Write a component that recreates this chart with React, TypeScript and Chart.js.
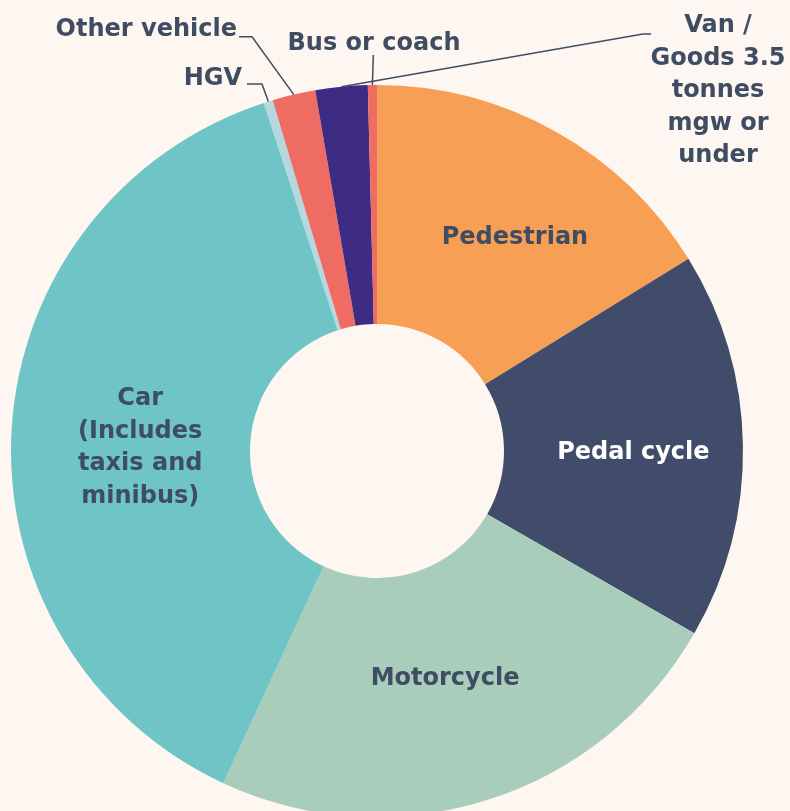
import { useEffect, useRef } from "react";
import { Chart, registerables } from "chart.js";

Chart.register(...registerables);

const categories = [
  "Pedestrian",
  "Pedal cycle",
  "Motorcycle",
  "Car (Includes taxis and minibus)",
  "HGV",
  "Other vehicle",
  "Van / Goods 3.5 tonnes mgw or under",
  "Bus or coach",
];
const shares = [16.2, 17.1, 23.6, 38.1, 0.4, 1.9, 2.3, 0.4];
const labelLines = [
  ["Pedestrian"],
  ["Pedal cycle"],
  ["Motorcycle"],
  ["Car", "(Includes", "taxis and", "minibus)"],
  ["HGV"],
  ["Other vehicle"],
  ["Van /", "Goods 3.5", "tonnes", "mgw or", "under"],
  ["Bus or coach"],
];
const sliceColors = [
  "#F69F55",
  "#414C6B",
  "#A8CDBA",
  "#6FC5C6",
  "#B5D7E0",
  "#EF6C62",
  "#3E2B84",
  "#EF6C62",
];

const BG = "#FEF6F0";
const TEXT = "#3F4D63";
const FONT_SIZE = 24;
const FONT = `bold ${FONT_SIZE}px "DejaVu Sans", sans-serif`;
const CAP = 0.729 * FONT_SIZE;
const LINE_H = 32.5;

// inside label placement: angle delta (deg) and radius factor relative to mid-ring
const insideLayout: Record<number, { dA: number; rf: number; color: string }> = {
  0: { dA: 3.4, rf: 1.04, color: TEXT },
  1: { dA: 0.8, rf: 1.04, color: "#FFFFFF" },
  2: { dA: 0.8, rf: 0.953, color: TEXT },
  3: { dA: -2.0, rf: 0.961, color: TEXT },
};
// outside labels: text anchor + leader elbow points
const outsideLayout: Record<
  number,
  { x: number; cy: number; align: CanvasTextAlign; pts: [number, number][] }
> = {
  4: { x: 242, cy: 76.5, align: "right", pts: [[247, 84], [262, 84]] },
  5: { x: 237, cy: 27, align: "right", pts: [[239, 36.7], [252, 36.7]] },
  6: { x: 718, cy: 23.5, align: "center", pts: [[651, 34], [643, 34]] },
  7: { x: 374, cy: 41, align: "center", pts: [[373.3, 55]] },
};

const labelPlugin = {
  id: "sliceLabels",
  afterDatasetsDraw(chart: any) {
    const ctx = chart.ctx as CanvasRenderingContext2D;
    const meta = chart.getDatasetMeta(0);
    ctx.save();
    ctx.font = FONT;
    ctx.textBaseline = "alphabetic";
    meta.data.forEach((arc: any, i: number) => {
      const p = arc.getProps(
        ["x", "y", "startAngle", "endAngle", "innerRadius", "outerRadius"],
        true
      );
      const mid = (p.startAngle + p.endAngle) / 2;
      const lines = labelLines[i];
      if (insideLayout[i]) {
        const L = insideLayout[i];
        const a = mid + (L.dA * Math.PI) / 180;
        const r = ((p.innerRadius + p.outerRadius) / 2) * L.rf;
        const cx = p.x + r * Math.cos(a);
        const cy = p.y + r * Math.sin(a);
        ctx.fillStyle = L.color;
        ctx.textAlign = "center";
        const top = cy - ((lines.length - 1) * LINE_H) / 2;
        lines.forEach((t, k) => {
          ctx.fillText(t, cx, top + k * LINE_H + CAP / 2);
        });
      } else if (outsideLayout[i]) {
        const L = outsideLayout[i];
        const ax = p.x + p.outerRadius * Math.cos(mid);
        const ay = p.y + p.outerRadius * Math.sin(mid);
        ctx.strokeStyle = TEXT;
        ctx.lineWidth = 1.5;
        ctx.beginPath();
        ctx.moveTo(ax, ay);
        for (let k = L.pts.length - 1; k >= 0; k--) ctx.lineTo(L.pts[k][0], L.pts[k][1]);
        ctx.stroke();
        ctx.fillStyle = TEXT;
        ctx.textAlign = L.align;
        lines.forEach((t, k) => {
          ctx.fillText(t, L.x, L.cy + k * LINE_H + CAP / 2);
        });
      }
    });
    ctx.restore();
  },
};

export default function App() {
  const ref = useRef<HTMLCanvasElement | null>(null);
  useEffect(() => {
    document.body.style.margin = "0";
    document.body.style.background = BG;
    if (!ref.current) return;
    const chart = new Chart(ref.current, {
      type: "doughnut",
      data: {
        labels: categories,
        datasets: [
          {
            data: shares,
            backgroundColor: sliceColors,
            borderWidth: 0,
          },
        ],
      },
      options: {
        responsive: false,
        animation: false,
        devicePixelRatio: 1,
        cutout: "34.7%",
        layout: { padding: { left: 11, right: 47, top: 85, bottom: 13 } },
        plugins: {
          legend: { display: false },
          tooltip: { enabled: false },
        },
      },
      plugins: [labelPlugin],
    });
    return () => chart.destroy();
  }, []);
  return (
    <div
      style={{
        position: "relative",
        width: 790,
        height: 811,
        overflow: "hidden",
        background: BG,
      }}
    >
      <canvas ref={ref} width={790} height={830} style={{ display: "block" }} />
    </div>
  );
}
